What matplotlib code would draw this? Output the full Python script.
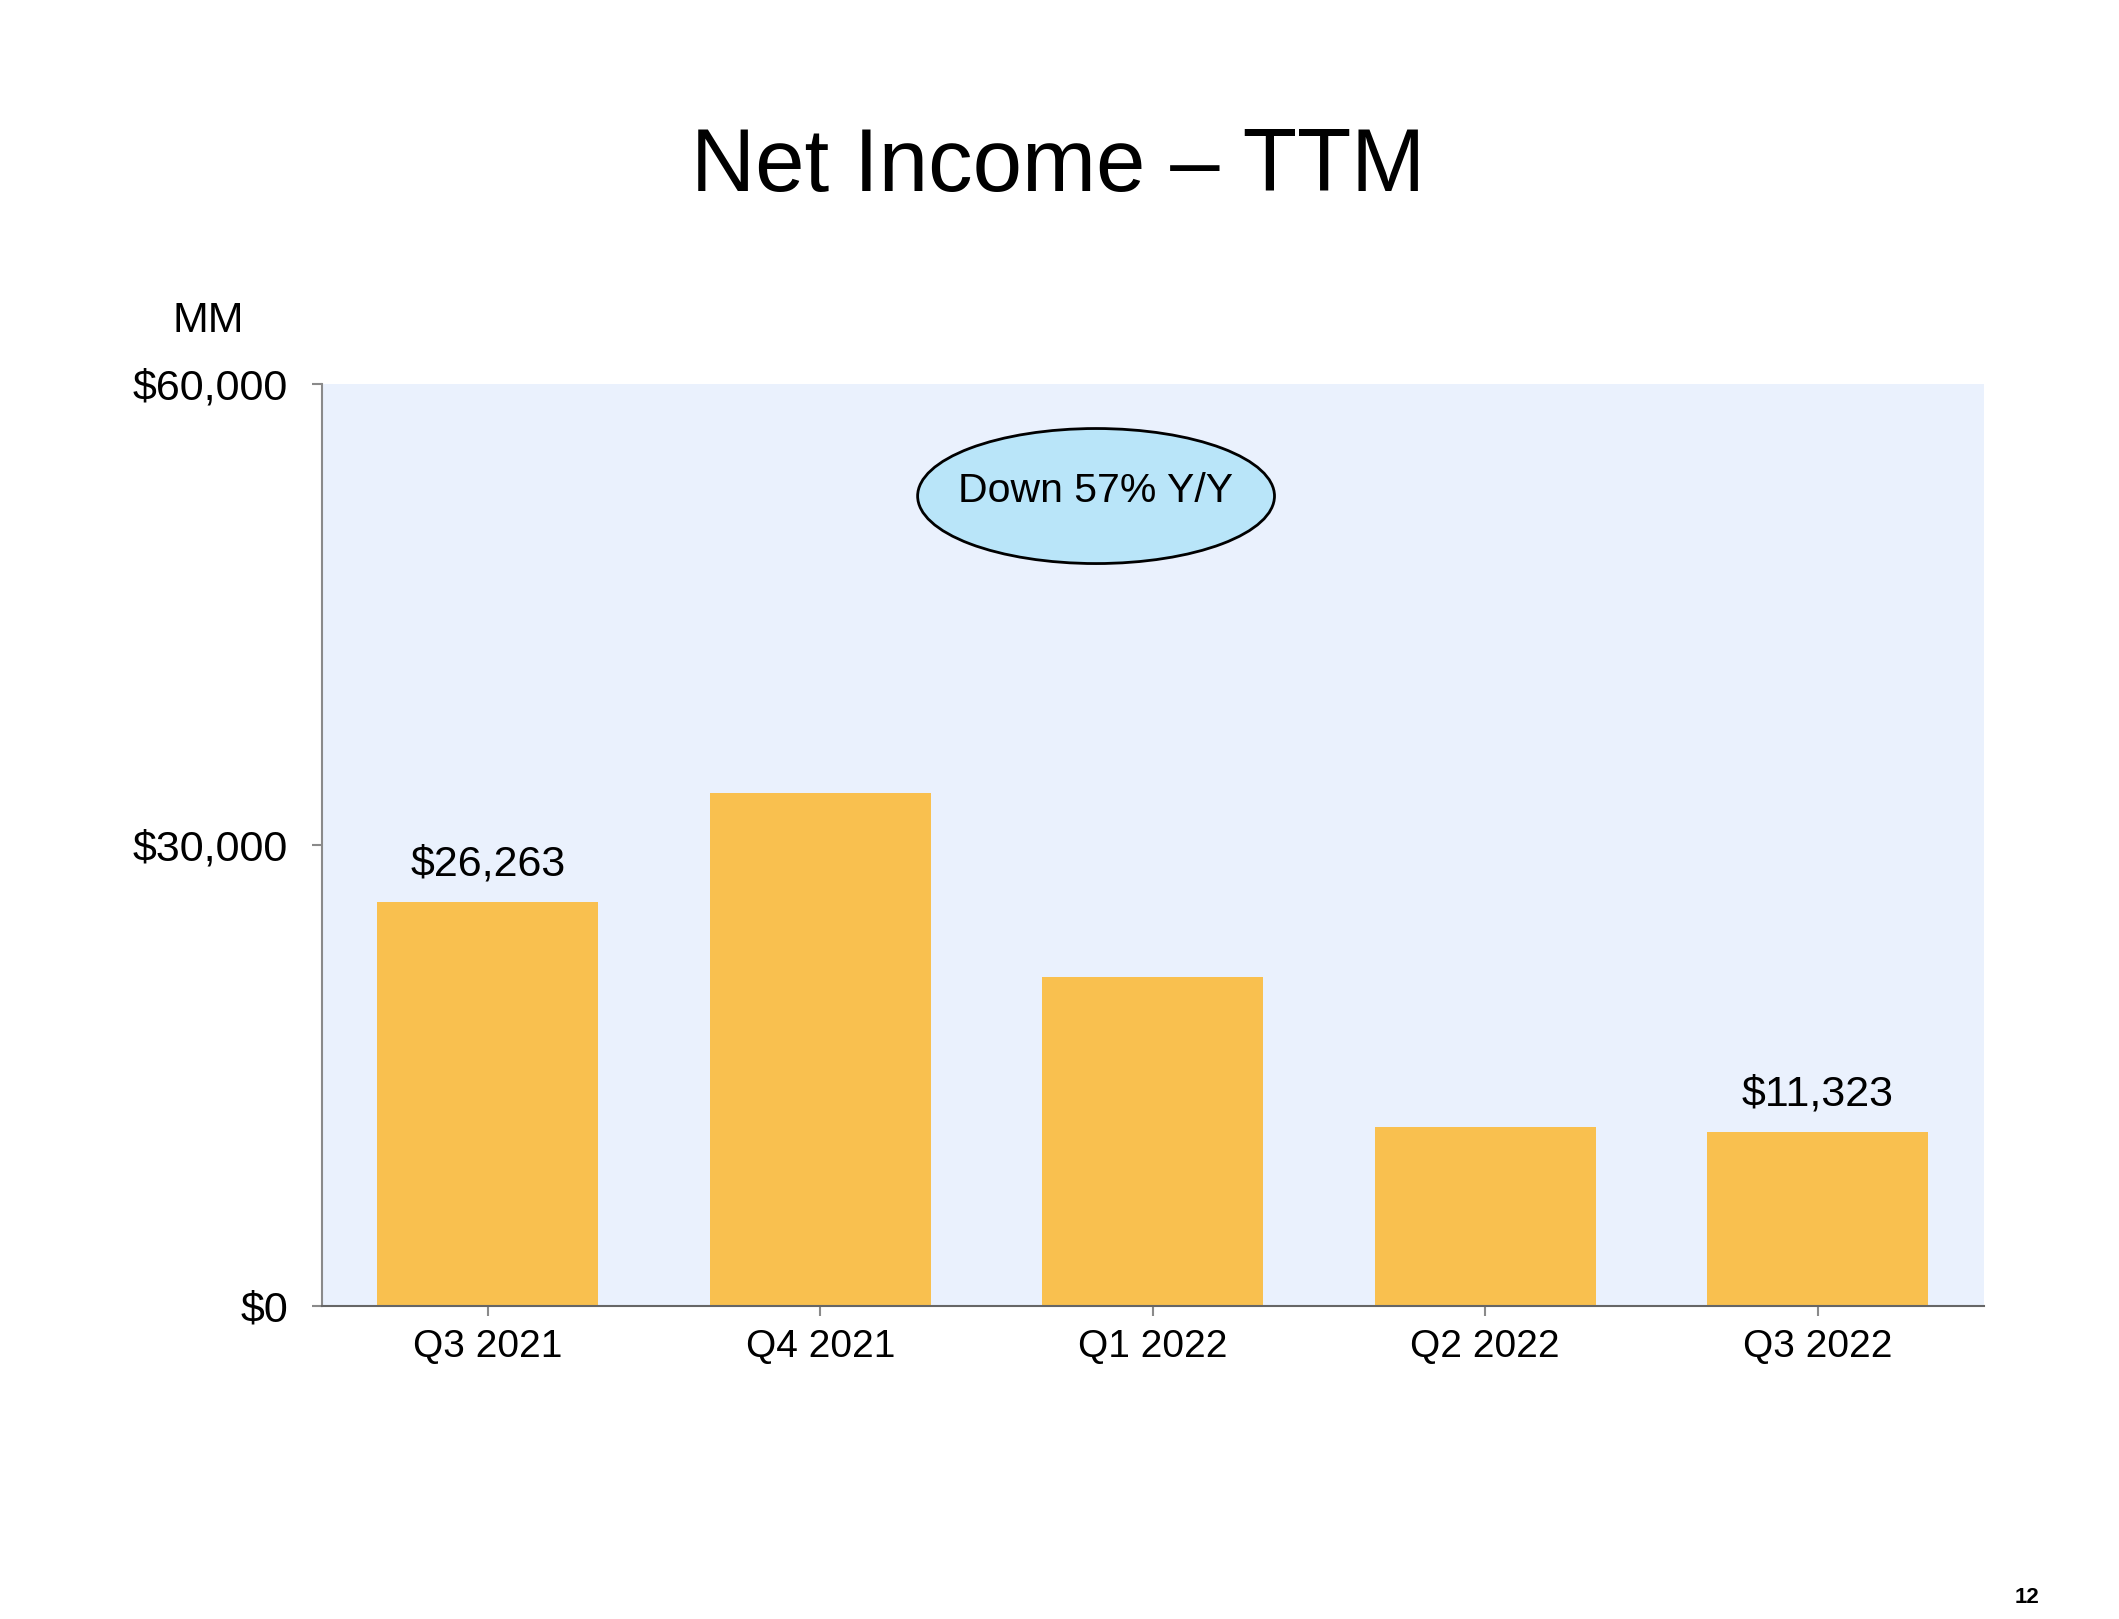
import matplotlib
matplotlib.use("Agg")
import matplotlib.pyplot as plt
from matplotlib.patches import Ellipse

categories = ["Q3 2021", "Q4 2021", "Q1 2022", "Q2 2022", "Q3 2022"]
net_income = [26263, 33364, 21413, 11607, 11323]
labeled = {0: "$26,263", 4: "$11,323"}
yticks = [0, 30000, 60000]
ytick_labels = ["$0", "$30,000", "$60,000"]

plt.rcParams['font.family'] = ['Liberation Sans', 'DejaVu Sans']

fig = plt.figure(figsize=(21.19, 16.19), dpi=100)
ax = fig.add_axes([0.1518, 0.1936, 0.9362 - 0.1518, 0.7629 - 0.1936])
ax.set_facecolor("#EAF1FD")

x = list(range(len(categories)))
ax.bar(x, net_income, width=0.665, color="#F9C04F", zorder=2)
for i, txt in labeled.items():
    ax.annotate(txt, (x[i], net_income[i]), xytext=(0, 27), textcoords="offset points",
                ha="center", va="center", fontsize=31)

ax.set_xlim(-0.5, 4.5)
ax.set_ylim(0, 60000)
ax.set_xticks(x)
ax.set_xticklabels(categories, fontsize=28)
ax.set_yticks(yticks)
ax.set_yticklabels(ytick_labels, fontsize=31)
for s in ["top", "right"]:
    ax.spines[s].set_visible(False)
ax.spines["left"].set_color("#8a8a8a")
ax.spines["left"].set_linewidth(1.5)
ax.spines["bottom"].set_color("#666666")
ax.spines["bottom"].set_linewidth(1.5)
ax.tick_params(axis="y", length=7, width=1.5, color="#8a8a8a", pad=17, direction="out")
ax.tick_params(axis="x", length=7, width=1.5, color="#8a8a8a", pad=10, direction="out")

ell = Ellipse((0.4659, 0.8783), 0.2147, 0.1465, transform=ax.transAxes,
              facecolor="#B9E5F9", edgecolor="black", linewidth=2, zorder=3)
ax.add_patch(ell)
ax.text(0.4659, 0.8836, "Down 57% Y/Y", transform=ax.transAxes, ha="center", va="center",
        fontsize=29.5, zorder=4)

fig.text(1058 / 2119, 1 - 168 / 1619, "Net Income – TTM", ha="center", va="center", fontsize=64)
fig.text(208 / 2119, 1 - 321 / 1619, "MM", ha="center", va="center", fontsize=31)
fig.text(2027 / 2119, 1 - 1597 / 1619, "12", ha="center", va="center", fontsize=16, fontweight="bold")

fig.savefig("out.png", dpi=100, facecolor="white")
